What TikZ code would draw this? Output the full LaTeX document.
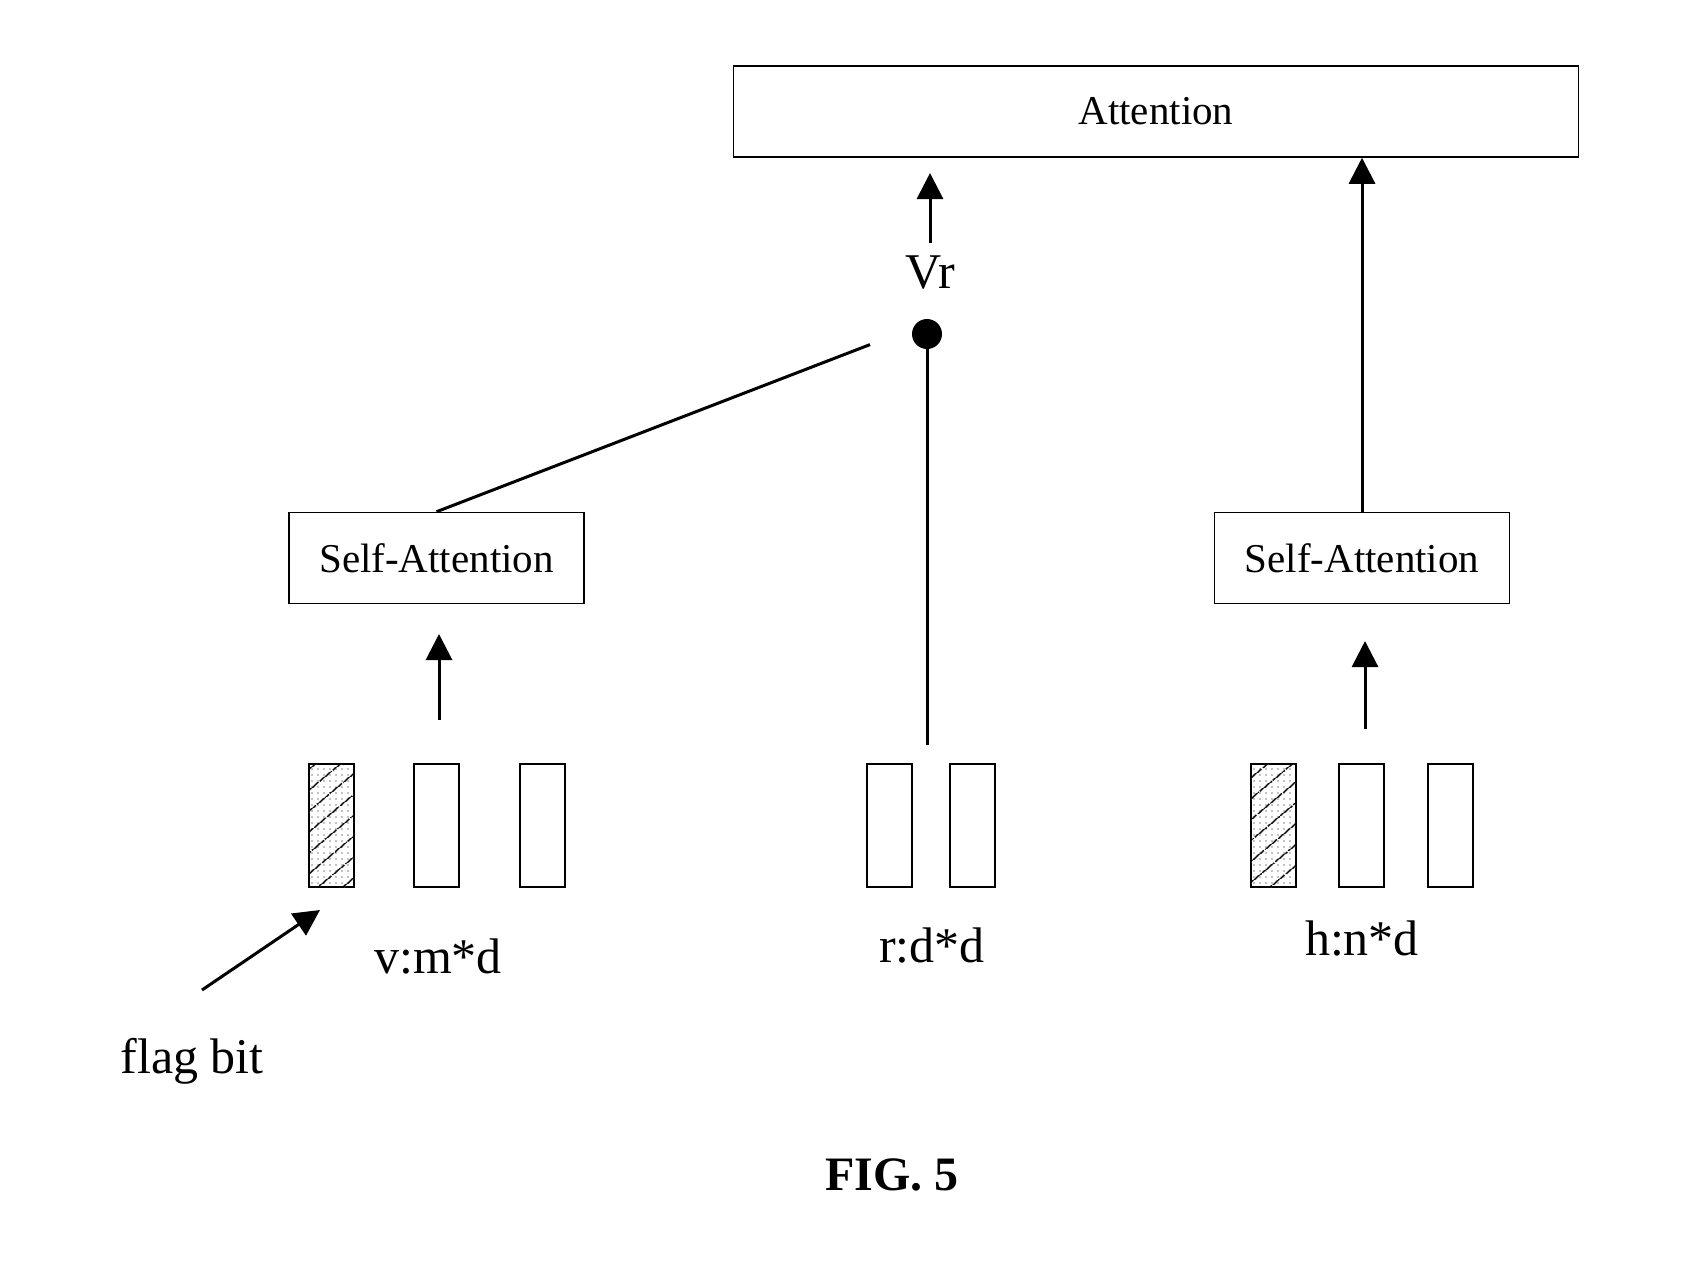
\documentclass[tikz,border=0pt]{standalone}
\usepackage{fontspec}
\setmainfont{Liberation Serif}
\usepackage{tikz}
\usetikzlibrary{arrows.meta,positioning,patterns.meta}

\tikzset{
  block/.style={draw, line width=1.5pt, minimum height=91pt, inner sep=0pt,
    font=\fontsize{41}{49}\selectfont},
  vec/.style={draw, line width=2pt, minimum width=45pt, minimum height=123pt, inner sep=0pt},
  flagvec/.style={vec, preaction={pattern={Dots[distance=6pt,radius=0.7pt]}},
    postaction={pattern={Lines[angle=40,distance=17pt,line width=1.8pt]}}},
  lbl/.style={anchor=base, font=\fontsize{50}{60}\selectfont},
  link/.style={line width=3pt},
  up/.style={link, -{Triangle[length=26pt,width=26pt]}}
}

\begin{document}
\begin{tikzpicture}[x=1pt,y=-1pt]
    \useasboundingbox (0,0) rectangle (1699,1285);

    % top
    \node[block, minimum width=845pt] (att) at (1156,111.5) {Attention};
    \node[lbl] (vr) at (930,288) {Vr};
    \fill (927,334) circle (15) coordinate (dot);

    % self-attention blocks
    \node[block, minimum width=295pt] (saL) at (436.5,558) {Self-Attention};
    \node[block, minimum width=295pt] (saR) at (1362,558) {Self-Attention};

    % vectors v
    \node[flagvec] (v1) at (331.5,825.5) {};
    \node[vec] (v2) at (436.5,825.5) {};
    \node[vec] (v3) at (542,825.5) {};
    % vectors r
    \node[vec] (r1) at (889.5,825.5) {};
    \node[vec] (r2) at (972.5,825.5) {};
    % vectors h
    \node[flagvec] (h1) at (1273.5,825.5) {};
    \node[vec] (h2) at (1361.5,825.5) {};
    \node[vec] (h3) at (1450.5,825.5) {};

    \node[lbl] (vlbl) at (438,973) {v:m*d};
    \node[lbl] (rlbl) at (932,962) {r:d*d};
    \node[lbl] (hlbl) at (1362,955) {h:n*d};
    \node[lbl] (flag) at (192,1073) {flag bit};
    \node[lbl, font=\fontsize{48}{58}\selectfont\bfseries] (fig) at (892,1190) {FIG. 5};

    % free ends
    \coordinate (vrtop) at (930,173);
    \coordinate (vrbot) at (930,243);
    \coordinate (dotl) at (870,344.6);
    \coordinate (dotb) at (927,347);
    \coordinate (rtop) at (927,745);
    \coordinate (vtop) at (439,720);
    \coordinate (vhead) at (439,634);
    \coordinate (htop) at (1365,729);
    \coordinate (hhead) at (1365,641);
    \coordinate (flagtail) at (202,990);
    \coordinate (flaghead) at (320,910);

    \draw[up] (vrbot) -- (vrtop);
    \draw[link] (saL.north) -- (dotl);
    \draw[link] (dotb) -- (rtop);
    \draw[up] (saR.north) -- (saR.north |- att.south);
    \draw[up] (vtop) -- (vhead);
    \draw[up] (htop) -- (hhead);
    \draw[up] (flagtail) -- (flaghead);
\end{tikzpicture}
\end{document}
